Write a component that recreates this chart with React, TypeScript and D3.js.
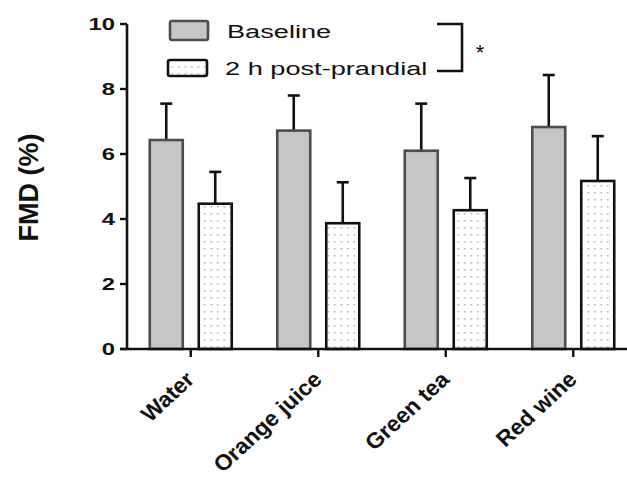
import React from "react";
import * as d3 from "d3";

const categories = ["Water", "Orange juice", "Green tea", "Red wine"];
const seriesNames = ["Baseline", "2 h post-prandial"];
const baselineValues = [6.43, 6.72, 6.1, 6.83];
const baselineErrors = [1.12, 1.08, 1.45, 1.6];
const postValues = [4.47, 3.87, 4.27, 5.17];
const postErrors = [0.98, 1.26, 0.99, 1.38];
const yTicks = [0, 2, 4, 6, 8, 10];
const yLabel = "FMD (%)";

const W = 627;
const H = 479;
const SX = 1.4; // horizontal text stretch of the reference

export default function App() {
  const y = d3.scaleLinear().domain([0, 10]).range([349, 24]);
  const x0 = d3.scaleBand<string>().domain(categories).range([127, 637]).paddingInner(0).paddingOuter(0);
  const x1 = d3
    .scaleBand<string>()
    .domain(seriesNames)
    .range([x0.bandwidth() / 2 - 41, x0.bandwidth() / 2 + 41])
    .paddingInner(16 / 49)
    .paddingOuter(0);

  const series = [
    { name: seriesNames[0], values: baselineValues, errors: baselineErrors, fill: "#c6c6c6", stroke: "#4d4d4d" },
    { name: seriesNames[1], values: postValues, errors: postErrors, fill: "url(#dots)", stroke: "#111" },
  ];

  const bw = x1.bandwidth();
  const font = "'Liberation Sans', Arial, Helvetica, sans-serif";

  return (
    <svg width={W} height={H} style={{ position: "absolute", left: 0, top: 0, background: "#fff" }} fontFamily={font}>
      <defs>
        <pattern id="dots" patternUnits="userSpaceOnUse" width={6.5} height={7} x={0} y={0}>
          <rect width={6.5} height={7} fill="#fff" />
          <rect x={2.5} y={3} width={1.6} height={1.6} fill="#b0b0b0" />
        </pattern>
      </defs>

      {/* bars */}
      {series.map((s) =>
        categories.map((c, i) => {
          const bx = (x0(c) as number) + (x1(s.name) as number);
          const top = y(s.values[i]);
          const etop = y(s.values[i] + s.errors[i]);
          const cx = bx + bw / 2;
          return (
            <g key={s.name + c}>
              <line x1={cx} x2={cx} y1={top} y2={etop} stroke="#111" strokeWidth={2.6} />
              <line x1={cx - 6} x2={cx + 6} y1={etop} y2={etop} stroke="#111" strokeWidth={2.6} />
              <rect x={bx} y={top} width={bw} height={y(0) - top} fill={s.fill} stroke={s.stroke} strokeWidth={2.6} />
            </g>
          );
        })
      )}

      {/* y axis */}
      <line x1={127} x2={127} y1={y(10)} y2={y(0)} stroke="#111" strokeWidth={2.6} />
      {yTicks.map((t) => (
        <g key={t}>
          <line x1={120} x2={127} y1={y(t)} y2={y(t)} stroke="#111" strokeWidth={2.4} />
          <text
            transform={`translate(115,${y(t) + 6}) scale(${SX},1)`}
            textAnchor="end"
            fontSize={17}
            fontWeight="bold"
            fill="#111"
          >
            {t}
          </text>
        </g>
      ))}
      <text
        transform={`translate(38,${(133 + 242) / 2}) rotate(-90)`}
        textAnchor="middle"
        fontSize={27}
        fontWeight="bold"
        fill="#111"
      >
        {yLabel}
      </text>

      {/* x axis */}
      <line x1={120} x2={W} y1={y(0)} y2={y(0)} stroke="#111" strokeWidth={2.6} />
      {categories.map((c) => {
        const cx = (x0(c) as number) + x0.bandwidth() / 2;
        return (
          <g key={c}>
            <line x1={cx} x2={cx} y1={y(0)} y2={y(0) + 8} stroke="#111" strokeWidth={2.4} />
            <text
              transform={`translate(${cx + 5},${y(0) + 32}) scale(1.05,1) rotate(-44)`}
              textAnchor="end"
              fontSize={22}
              fontWeight="bold"
              fill="#111"
            >
              {c}
            </text>
          </g>
        );
      })}

      {/* legend */}
      <rect x={170} y={21} width={38} height={19} rx={2} fill="#c6c6c6" stroke="#4d4d4d" strokeWidth={2.6} />
      <rect x={168} y={60} width={39} height={16} rx={2} fill="url(#dots)" stroke="#111" strokeWidth={2.6} />
      <text transform={`translate(227,37.5) scale(1.43,1)`} fontSize={19} fill="#111">
        {seriesNames[0]}
      </text>
      <text transform={`translate(225,75) scale(1.43,1)`} fontSize={19} fill="#111">
        {seriesNames[1]}
      </text>
      <polyline points="437,24 462,24 462,71 437,71" fill="none" stroke="#111" strokeWidth={2.6} />
      <text x={480} y={60} textAnchor="middle" fontSize={22} fill="#111">
        *
      </text>
    </svg>
  );
}
